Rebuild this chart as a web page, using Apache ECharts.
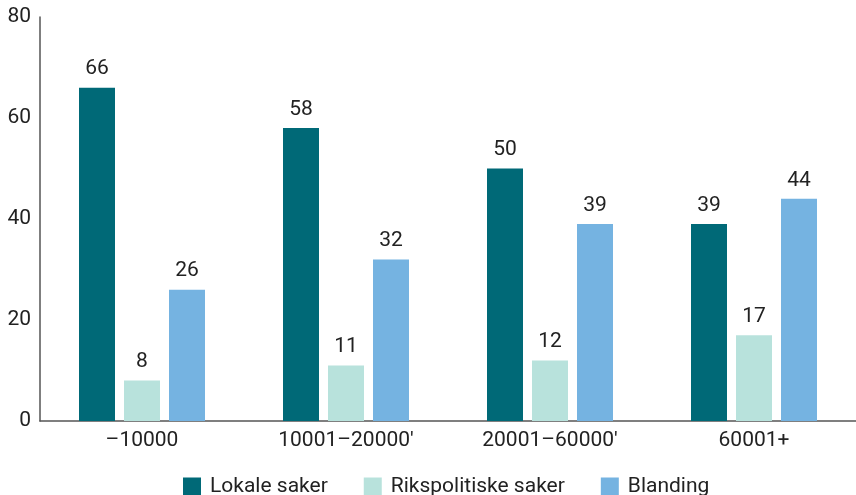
<!DOCTYPE html>
<html><head><meta charset="utf-8">
<script src="https://cdn.jsdelivr.net/npm/echarts@6/dist/echarts.min.js"></script>
<style>html,body{margin:0;padding:0;background:#fff}#c{width:856px;height:495px}</style>
</head><body><div id="c"></div>
<script>
const categories = ["–10000", "10001–20000'", "20001–60000'", "60001+"];
const seriesNames = ["Lokale saker", "Rikspolitiske saker", "Blanding"];
const lokale = [66, 58, 50, 39];
const rikspolitiske = [8, 11, 12, 17];
const blanding = [26, 32, 39, 44];
const yTicks = [0, 20, 40, 60, 80];
const colors = ["#006977", "#b8e2dc", "#75b3e1"];
const font = "Roboto";
const chart = echarts.init(document.getElementById('c'), null, {renderer:'canvas'});
const mk = (name, data, i) => ({
  name, type: 'bar', data, barWidth: 36, barGap: '25%',
  itemStyle: {color: colors[i]},
  label: {show: true, position: 'top', distance: 8, color: '#222', fontSize: 21, fontFamily: font},
  emphasis: {disabled: true}
});
chart.setOption({
  animation: false,
  textStyle: {fontFamily: font},
  grid: {left: 40, top: 17, width: 822, height: 404, containLabel: false},
  legend: {
    top: 476, left: 183, itemWidth: 18, itemHeight: 18, itemGap: 36,
    icon: 'rect', padding: 0,
    textStyle: {fontSize: 21, color: '#222', fontFamily: font, padding: [0, 0, 0, 4]},
    data: seriesNames
  },
  xAxis: {
    type: 'category', data: categories,
    axisLine: {lineStyle: {color: '#555', width: 1.5}},
    axisTick: {show: false},
    axisLabel: {color: '#222', fontSize: 21, fontFamily: font, margin: 9}
  },
  yAxis: {
    type: 'value', min: yTicks[0], max: yTicks[yTicks.length-1], interval: 20,
    axisLine: {show: true, lineStyle: {color: '#555', width: 1.5}},
    axisTick: {show: false},
    splitLine: {show: false},
    axisLabel: {color: '#222', fontSize: 21, fontFamily: font, margin: 9}
  },
  series: [mk(seriesNames[0], lokale, 0), mk(seriesNames[1], rikspolitiske, 1), mk(seriesNames[2], blanding, 2)]
});
</script></body></html>
